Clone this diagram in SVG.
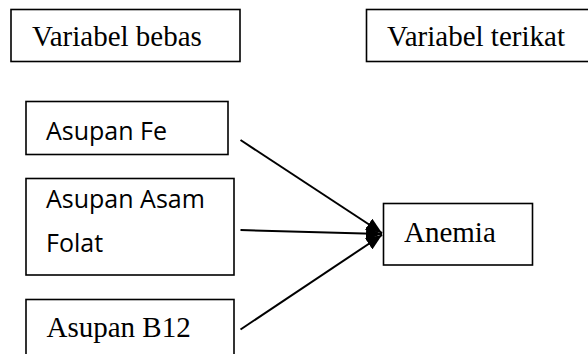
<svg xmlns="http://www.w3.org/2000/svg" width="588" height="354" viewBox="0 0 588 354">
<style>
.box{fill:#fff;stroke:#000;stroke-width:1.6}
.serif{font-family:"Liberation Serif","Times New Roman",serif;font-size:29px;fill:#000}
.sans{font-family:"Open Sans","Noto Sans",sans-serif;font-size:25px;fill:#000}
.edge{stroke:#000;stroke-width:2;fill:none;marker-end:url(#ah)}
</style>
<defs>
<marker id="ah" viewBox="0 0 12 10" refX="12" refY="5" markerWidth="8" markerHeight="6.7" orient="auto" markerUnits="strokeWidth">
<path d="M0,0 L12,5 L0,10 Z" fill="#000"/>
</marker>
</defs>
<rect width="588" height="354" fill="#fff"/>
<g id="variabel-bebas">
<rect class="box" x="11" y="9.5" width="229" height="52"/>
<text class="serif" x="32" y="46">Variabel bebas</text>
</g>
<g id="variabel-terikat">
<rect class="box" x="366.5" y="9.5" width="230" height="52"/>
<text class="serif" x="387" y="46">Variabel terikat</text>
</g>
<g id="asupan-fe">
<rect class="box" x="26" y="101.5" width="202" height="53"/>
<text class="sans" x="46" y="140">Asupan Fe</text>
</g>
<g id="asupan-asam-folat">
<rect class="box" x="26" y="178.5" width="208" height="96.5"/>
<text class="sans" x="46" y="208">Asupan Asam</text>
<text class="sans" x="46" y="251.5">Folat</text>
</g>
<g id="asupan-b12">
<rect class="box" x="26" y="299.5" width="208" height="70"/>
<text class="serif" x="46.5" y="336.5">Asupan B12</text>
</g>
<g id="anemia">
<rect class="box" x="383.5" y="203.5" width="149" height="61.5"/>
<text class="serif" x="404" y="241.5">Anemia</text>
</g>
<g id="connectors">
<line class="edge" x1="240.5" y1="140" x2="382" y2="233"/>
<line class="edge" x1="240.5" y1="230" x2="382" y2="234"/>
<line class="edge" x1="240.5" y1="329.5" x2="382" y2="235"/>
</g>
</svg>
